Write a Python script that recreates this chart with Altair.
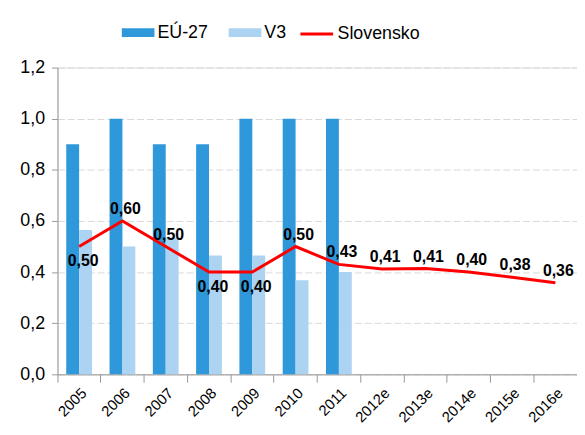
import altair as alt
import pandas as pd

years = ["2005", "2006", "2007", "2008", "2009", "2010", "2011",
         "2012e", "2013e", "2014e", "2015e", "2016e"]
bar_years = years[:7]
eu27 = [0.90, 1.00, 0.90, 0.90, 1.00, 1.00, 1.00]
v3 = [0.565, 0.50, 0.535, 0.465, 0.465, 0.368, 0.40]
slovensko = [0.50, 0.60, 0.50, 0.40, 0.40, 0.50, 0.43, 0.412, 0.414, 0.40, 0.38, 0.358]
label_pos = ["below", "above", "above", "below", "below", "above", "above",
             "above", "above", "above", "above", "above"]

bars = pd.DataFrame(
    [{"year": y, "series": "EÚ-27", "value": v} for y, v in zip(bar_years, eu27)]
    + [{"year": y, "series": "V3", "value": v} for y, v in zip(bar_years, v3)]
)
line = pd.DataFrame({"year": years, "value": slovensko, "series": "Slovensko", "pos": label_pos})

FONT = "Liberation Sans"

x = alt.X("year:N", sort=years, title=None,
          scale=alt.Scale(paddingInner=0, paddingOuter=0),
          axis=alt.Axis(labelAngle=-45, labelFontSize=15, labelFont=FONT, labelColor="#000",
                        bandPosition=0, tickSize=8, tickColor="#999", domainColor="#999",
                        labelPadding=3, grid=False))
y = alt.Y("value:Q", title=None,
          scale=alt.Scale(domain=[0, 1.2]),
          axis=alt.Axis(values=[0, 0.2, 0.4, 0.6, 0.8, 1.0, 1.2],
                        labelExpr="replace(format(datum.value, '.1f'), '.', ',')",
                        labelFontSize=18, labelFont=FONT, labelColor="#000",
                        tickSize=6, tickColor="#999", domainColor="#999",
                        gridColor="#d9d9d9", gridDash=[7, 3], labelPadding=7))

rect_path = "M-1,-0.27H1V0.27H-1Z"

bar_layer = alt.Chart(bars).mark_bar().encode(
    x=x, y=y,
    xOffset=alt.XOffset("series:N", sort=["EÚ-27", "V3"],
                        scale=alt.Scale(paddingOuter=0.68, paddingInner=0)),
    color=alt.Color("series:N", sort=["EÚ-27", "V3"],
                    scale=alt.Scale(domain=["EÚ-27", "V3"], range=["#2E98DB", "#ACD3F1"]),
                    legend=alt.Legend(title=None, orient="none", legendX=65, legendY=-52,
                                      direction="horizontal", symbolType=rect_path,
                                      symbolSize=1089, symbolStrokeWidth=0, symbolOpacity=1,
                                      labelFontSize=18, labelFont=FONT, labelColor="#000",
                                      columnPadding=20, labelOffset=3)),
)

line_layer = alt.Chart(line).mark_line(strokeWidth=3).encode(
    x=alt.X("year:N", sort=years), y="value:Q",
    stroke=alt.Stroke("series:N",
                      scale=alt.Scale(domain=["Slovensko"], range=["#FF0000"]),
                      legend=alt.Legend(title=None, orient="none", legendX=244, legendY=-52,
                                        symbolType="stroke", symbolSize=1089,
                                        symbolStrokeWidth=3,
                                        labelFontSize=18, labelFont=FONT, labelColor="#000",
                                        labelOffset=3)),
)

label_fmt = "replace(format(datum.value, '.2f'), '.', ',')"
text_above = alt.Chart(line).transform_filter("datum.pos == 'above'").transform_calculate(
    lab=label_fmt).mark_text(fontSize=16, fontWeight="bold", font=FONT, dx=3, dy=-12,
                             color="#000").encode(
    x=alt.X("year:N", sort=years), y="value:Q", text="lab:N")
text_below = alt.Chart(line).transform_filter("datum.pos == 'below'").transform_calculate(
    lab=label_fmt).mark_text(fontSize=16, fontWeight="bold", font=FONT, dx=4, dy=15,
                             color="#000").encode(
    x=alt.X("year:N", sort=years), y="value:Q", text="lab:N")

chart = alt.layer(bar_layer, line_layer, text_above, text_below).resolve_scale(
    color="independent", stroke="independent"
).properties(
    width=525, height=310,
    autosize=alt.AutoSizeParams(type="none"),
    padding={"left": 50, "top": 58, "right": 0, "bottom": 50},
).configure_view(stroke=None).configure(background="white")

chart.save("out.html", embed_options={"renderer": "svg", "actions": False})
